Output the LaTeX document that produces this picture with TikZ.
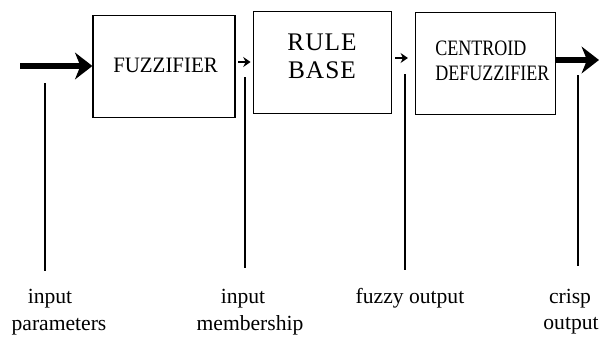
\documentclass[tikz,border=0pt]{standalone}
\usepackage{fontspec}
\setmainfont{Liberation Serif}
\usetikzlibrary{arrows.meta}
\begin{document}
\begin{tikzpicture}[x=0.75pt,y=-0.75pt,
  blockbox/.style={draw,line width=0.9pt,rectangle,inner sep=0pt},
  heavyarrow/.style={line width=4.6pt,-{Stealth[length=13pt,width=20pt,inset=4pt]}},
  smallarrow/.style={line width=1.3pt,-{Stealth[length=5.5pt,width=7.5pt]}},
  leader/.style={line width=0.9pt},
  blocktext/.style={inner sep=0pt,anchor=base},
  caption/.style={inner sep=0pt,anchor=base,font=\fontsize{16.2}{19}\selectfont}]
\useasboundingbox (0,0) rectangle (599,336);

% processing blocks
\node[blockbox,minimum width=106.5pt,minimum height=77pt] (fuzz) at (164,66.5) {};
\node[blockbox,minimum width=104pt,minimum height=76pt] (rule) at (322.5,62.5) {};
\node[blockbox,minimum width=105.5pt,minimum height=77pt] (defuz) at (485.5,63.5) {};

% block inscriptions
\node[blocktext,font=\fontsize{16.5}{18}\selectfont\addfontfeature{FakeStretch=0.95}]
  (fuzzT) at (165.5,72) {FUZZIFIER};
\node[blocktext,font=\fontsize{19}{21}\selectfont\addfontfeature{LetterSpace=4}]
  (ruleT1) at (322,50) {RULE};
\node[blocktext,font=\fontsize{19}{21}\selectfont\addfontfeature{LetterSpace=4}]
  (ruleT2) at (322,78) {BASE};
\node[blocktext,anchor=base west,font=\fontsize{16.5}{18}\selectfont\addfontfeature{FakeStretch=0.82}]
  (defuzT1) at (435,55) {CENTROID};
\node[blocktext,anchor=base west,font=\fontsize{16.5}{18}\selectfont\addfontfeature{FakeStretch=0.82}]
  (defuzT2) at (435,80) {DEFUZZIFIER};

% signal flow
\coordinate (src) at (20,66);
\coordinate (snk) at (599,60);
\draw[heavyarrow] (src) -- (src -| fuzz.west);
\draw[smallarrow,shorten <=2pt,shorten >=1.5pt] (fuzz.east |- 0,62) -- (rule.west |- 0,62);
\draw[smallarrow,shorten <=2pt,shorten >=5pt] (rule.east |- 0,58) -- (defuz.west |- 0,58);
\draw[heavyarrow] (defuz.east |- snk) -- (snk);

% labels
\node[caption] (lp1) at (50,303) {input};
\node[caption] (lp2) at (59,330) {parameters};
\node[caption] (lm1) at (243,303) {input};
\node[caption] (lm2) at (250,330) {membership};
\node[caption] (lf)  at (410,303) {fuzzy output};
\node[caption] (lc1) at (570,303) {crisp};
\node[caption] (lc2) at (571,329) {output};

% leader lines
\coordinate (tp) at (45,83);
\coordinate (tm) at (245,77);
\coordinate (tf) at (405,74);
\coordinate (tc) at (578,75);
\draw[leader,shorten >=13pt] (tp) -- (tp |- lp1.north);
\draw[leader,shorten >=15pt] (tm) -- (tm |- lm1.north);
\draw[leader,shorten >=13pt] (tf) -- (tf |- lf.north);
\draw[leader,shorten >=17pt] (tc) -- (tc |- lc1.north);
\end{tikzpicture}
\end{document}
